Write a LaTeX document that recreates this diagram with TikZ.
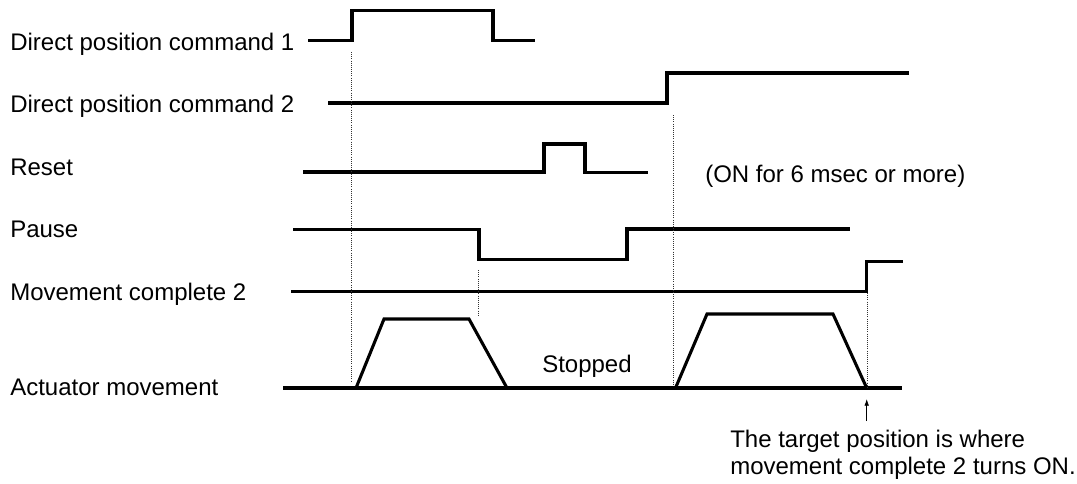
\documentclass[tikz,border=0pt]{standalone}
\usepackage{fontspec}
\setmainfont{Liberation Sans}
\usetikzlibrary{arrows.meta}

\begin{document}
\begin{tikzpicture}[
        x=0.75pt, y=-0.75pt,
        signal/.style={line width=2.3pt},
        guide/.style={densely dotted, line width=0.6pt, black!80},
        label/.style={anchor=base west, inner sep=0pt, align=left, font=\fontsize{18}{20.25}\selectfont},
        pointer/.style={line width=0.6pt, -{Latex[length=5pt, width=3.5pt]}}
    ]
        \useasboundingbox (0, 0) rectangle (1077, 483);

        % Signal names
        \node[label] (cmdone) at (10, 50) {Direct position command 1};
        \node[label] (cmdtwo) at (10, 112) {Direct position command 2};
        \node[label] (reset) at (10, 175) {Reset};
        \node[label] (pause) at (10, 237) {Pause};
        \node[label] (mvcomplete) at (10, 300) {Movement complete 2};
        \node[label] (actuator) at (10, 395) {Actuator movement};

        % Waveforms
        \draw[signal] (308, 40.5) -- (352, 40.5) -- (352, 10.5) -- (493, 10.5) -- (493, 40.5) -- (535, 40.5);
        \draw[signal] (328, 103) -- (667, 103) -- (667, 73) -- (909, 73);
        \draw[signal] (303, 172) -- (544, 172) -- (544, 144) -- (585, 144) -- (585, 172.5) -- (648, 172.5);
        \draw[signal] (293, 229.5) -- (479, 229.5) -- (479, 259.5) -- (627, 259.5) -- (627, 229) -- (850, 229);
        \draw[signal] (291, 291.7) -- (866.7, 291.7) -- (866.7, 261.7) -- (903, 261.7);

        % Actuator movement
        \draw[signal] (283, 388) -- (902, 388);
        \draw[signal] (356, 388) -- (384, 319) -- (469, 319) -- (507, 388);
        \draw[signal] (675.5, 388) -- (707, 314) -- (833, 314) -- (866.7, 388);

        % Timing guides
        \draw[guide] (351, 52) -- (351, 382);
        \draw[guide] (478, 270) -- (478, 316);
        \draw[guide] (673.5, 115) -- (673.5, 384);
        \draw[guide] (867, 293) -- (867, 387);

        % Notes
        \node[label] (onnote) at (705, 182) {(ON for 6 msec or more)};
        \node[label] (stopped) at (542, 372) {Stopped};
        \node[label] (target) at (730, 474) {The target position is where\\movement complete 2 turns ON.};
        \coordinate (tail) at (866.7, 421);
        \coordinate (tip) at (866.7, 399);
        \draw[pointer] (tail) -- (tip);

    \end{tikzpicture}
\end{document}
